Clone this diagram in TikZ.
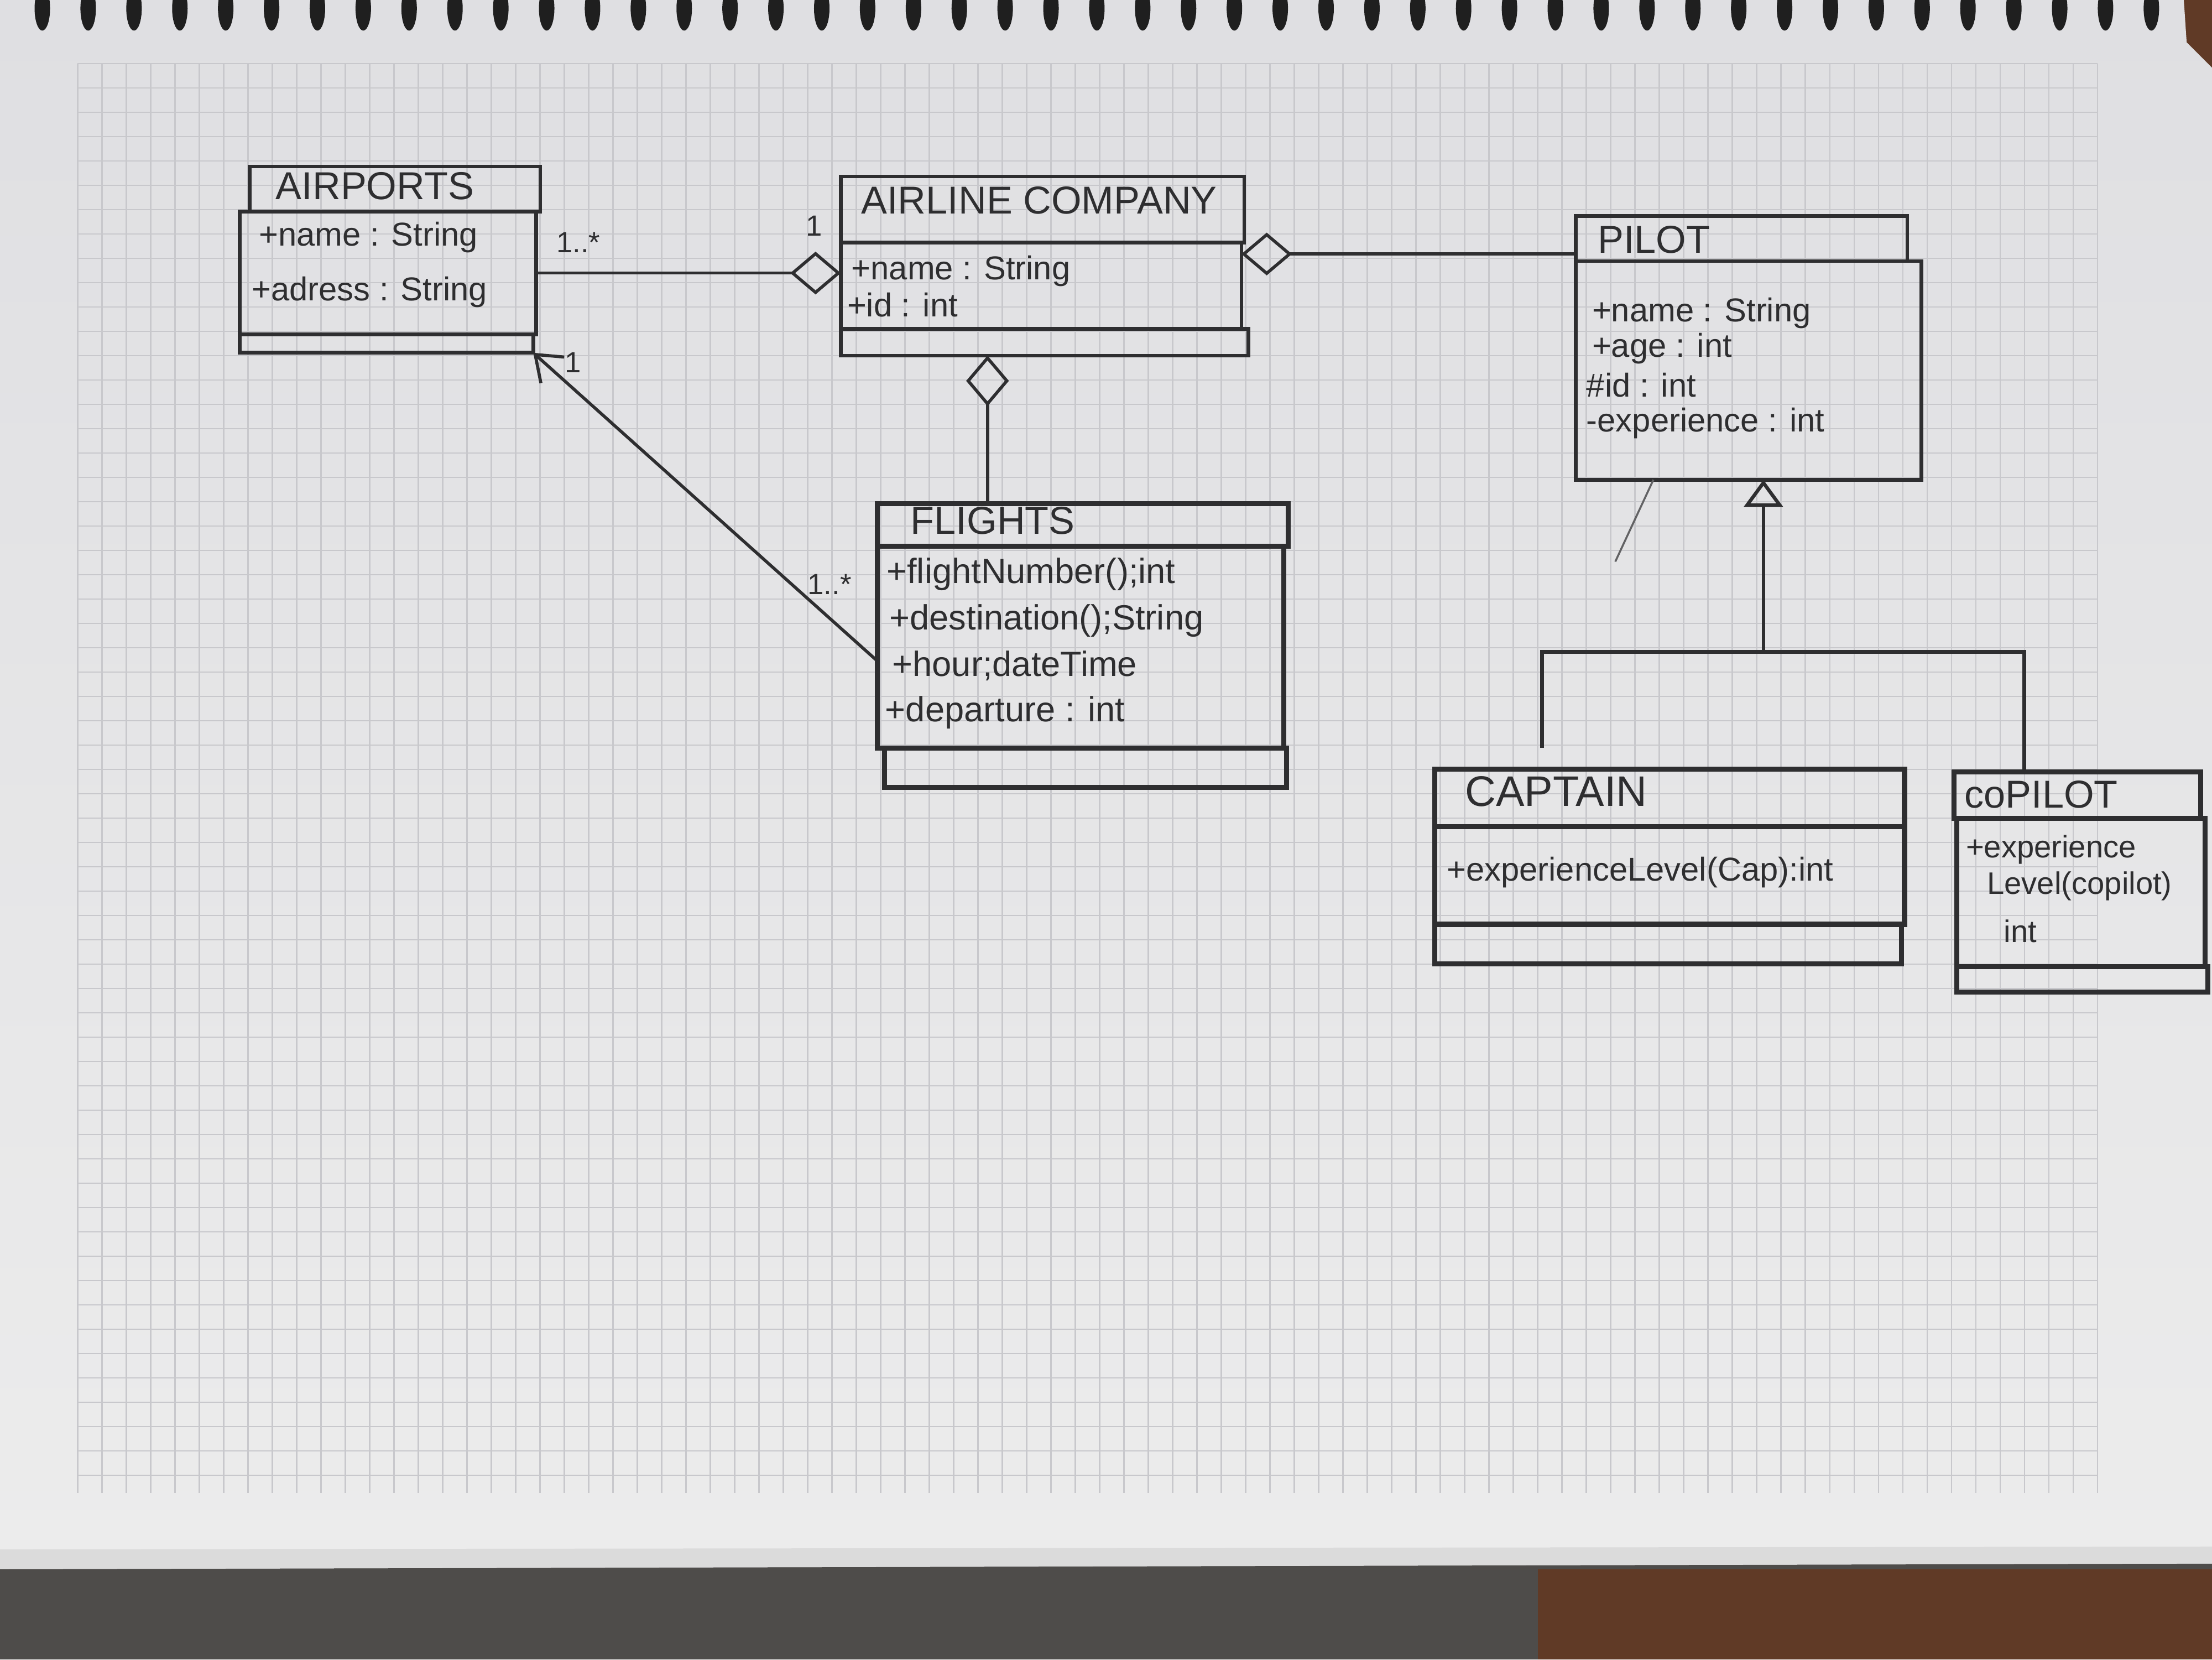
\documentclass[tikz,border=0pt]{standalone}
\usepackage{fontspec}
\setmainfont{Liberation Sans}
\usetikzlibrary{arrows.meta,fit,calc}

\definecolor{pen}{HTML}{2E2E30}
\definecolor{paperhi}{RGB}{223,223,226}
\definecolor{paperlo}{RGB}{236,236,236}
\definecolor{gridc}{RGB}{200,200,204}
\definecolor{desk}{RGB}{78,76,74}
\definecolor{wood}{RGB}{96,58,38}

\begin{document}
\begin{tikzpicture}[x=0.0127551cm, y=-0.0127551cm,
  pencil/.style={draw=pen, line width=0.95pt},
  heavy/.style={draw=pen, line width=1.3pt},
  cbox/.style={inner sep=0pt, outer sep=0pt},
  ttl/.style={anchor=west, text=pen, inner sep=0pt, font=\fontsize{10}{12}\selectfont},
  attr/.style={anchor=west, text=pen, inner sep=0pt, font=\fontsize{8.5}{10}\selectfont},
  mult/.style={text=pen, inner sep=0pt, font=\fontsize{7.5}{9}\selectfont},
  aggr/.style={draw=pen, line width=0.8pt, -{Diamond[open, length=13pt, width=11pt, line width=0.8pt]}},
  assoc/.style={draw=pen, line width=0.8pt, -{Straight Barb[length=6pt, width=9pt, line width=0.8pt]}},
  gen/.style={draw=pen, line width=0.9pt, -{Triangle[open, length=7pt, width=10pt, line width=0.9pt]}},
]
\useasboundingbox (0,0) rectangle (1568,1176);

% desk and notebook page
\fill[desk] (0,0) rectangle (1568,1176);
\fill[wood] (1090,1112) rectangle (1568,1176);
\fill[wood] (1548,0) rectangle (1568,60);
\shade[top color=paperhi, bottom color=paperlo]
  (4,0) -- (1548,0) -- (1550,30) -- (1568,48) -- (1568,1108) -- (0,1112) -- (0,0) -- cycle;
\fill[black!14] (0,1098) -- (1568,1096) -- (1568,1108) -- (0,1112) -- cycle;

% squared grid
\foreach \gx in {0,...,83} \draw[gridc, line width=0.35pt] (55+\gx*17.25,45) -- (55+\gx*17.25,1058);
\foreach \gy in {0,...,58} \draw[gridc, line width=0.35pt] (55,45+\gy*17.25) -- (1487,45+\gy*17.25);

% spiral binding holes
\foreach \hi in {0,...,46} \fill[black!88] (30+\hi*32.5,6) ellipse [x radius=0.07cm, y radius=0.2cm];

% ---- AIRPORTS
\node[fit={(177,118) (383,150)}, cbox, pencil] (ap-t) {};
\node[fit={(170,150) (380,237)}, cbox, pencil] (ap-a) {};
\node[fit={(170,237) (378,250)}, cbox, pencil] (ap-m) {};
\node[ttl] (ap-n) at (195,132) {AIRPORTS};
\node[attr] (ap-1) at (183,168) {+name : String};
\node[attr] (ap-2) at (178,207) {+adress : String};

% ---- AIRLINE COMPANY
\node[fit={(596,125) (882,172)}, cbox, pencil] (ac-t) {};
\node[fit={(596,172) (880,233)}, cbox, pencil] (ac-a) {};
\node[fit={(596,233) (885,252)}, cbox, pencil] (ac-m) {};
\node[ttl] (ac-n) at (610,142) {AIRLINE COMPANY};
\node[attr] (ac-1) at (603,192) {+name : String};
\node[attr] (ac-2) at (600,216) {+id : int};

% ---- PILOT
\node[fit={(1117,153) (1352,185)}, cbox, pencil] (pi-t) {};
\node[fit={(1117,185) (1362,340)}, cbox, pencil] (pi-a) {};
\node[ttl] (pi-n) at (1132,170) {PILOT};
\node[attr] (pi-1) at (1128,222) {+name : String};
\node[attr] (pi-2) at (1128,247) {+age : int};
\node[attr] (pi-3) at (1124,273) {\#id : int};
\node[attr] (pi-4) at (1124,300) {-experience : int};

% ---- FLIGHTS
\node[fit={(622,357) (913,387)}, cbox, heavy] (fl-t) {};
\node[fit={(622,387) (910,530)}, cbox, heavy] (fl-a) {};
\node[fit={(627,530) (912,558)}, cbox, heavy] (fl-m) {};
\node[ttl] (fl-n) at (645,369) {FLIGHTS};
\node[attr, font=\fontsize{9}{11}\selectfont] (fl-1) at (628,407) {+flightNumber();int};
\node[attr, font=\fontsize{9}{11}\selectfont] (fl-2) at (630,440) {+destination();String};
\node[attr, font=\fontsize{9}{11}\selectfont] (fl-3) at (632,472) {+hour;dateTime};
\node[attr, font=\fontsize{9}{11}\selectfont] (fl-4) at (627,505) {+departure : int};

% ---- CAPTAIN
\node[fit={(1017,545) (1350,586)}, cbox, heavy] (ca-t) {};
\node[fit={(1017,586) (1350,655)}, cbox, heavy] (ca-a) {};
\node[fit={(1017,655) (1348,683)}, cbox, heavy] (ca-m) {};
\node[ttl, font=\fontsize{11}{13}\selectfont] (ca-n) at (1038,561) {CAPTAIN};
\node[attr] (ca-1) at (1025,618) {+experienceLevel(Cap):int};

% ---- COPILOT
\node[fit={(1385,547) (1560,580)}, cbox, heavy] (co-t) {};
\node[fit={(1387,580) (1563,685)}, cbox, heavy] (co-a) {};
\node[fit={(1387,685) (1565,703)}, cbox, heavy] (co-m) {};
\node[ttl] (co-n) at (1392,563) {coPILOT};
\node[attr, font=\fontsize{8}{10}\selectfont] (co-1) at (1393,602) {+experience};
\node[attr, font=\fontsize{8}{10}\selectfont] (co-2) at (1408,628) {Level(copilot)};
\node[attr, font=\fontsize{8}{10}\selectfont] (co-3) at (1420,660) {int};

% ---- connectors
% AIRPORTS -- AIRLINE COMPANY (aggregation)
\draw[aggr] (ap-a.east) -- (ap-a.east -| ac-a.west);
\node[mult] (m-ap) at (410,172) {1..*};
\node[mult] (m-ac) at (577,160) {1};

% PILOT -- AIRLINE COMPANY (aggregation)
\coordinate (pj) at ($(pi-t.south west)+(0,-5)$);
\draw[aggr] (pj) -- (pj -| ac-a.east);

% FLIGHTS -- AIRLINE COMPANY (aggregation)
\coordinate (fj) at ($(fl-t.north west)+(78,0)$);
\draw[aggr] (fj) -- (fj |- ac-m.south);

% FLIGHTS -> AIRPORTS (association)
\coordinate (fa) at ($(fl-a.west)+(0,10)$);
\draw[assoc] (fa) -- (ap-m.south east);
\node[mult] (m-ap2) at (406,257) {1};
\node[mult] (m-fl) at (588,414) {1..*};

% CAPTAIN, COPILOT -> PILOT (generalization)
\coordinate (gj) at (1250,462);
\draw[gen] (gj) -- (gj |- pi-a.south);
\coordinate (cf) at ($(ca-t.north west)+(76,-15)$);
\coordinate (cof) at ($(co-t.north west)+(50,0)$);
\draw[pencil] (cf) |- (gj) -| (cof);

% loose pencil stroke under PILOT
\draw[pen!75, line width=0.5pt] ($(pi-a.south west)+(55,0)$) -- ++(-27,58);

\end{tikzpicture}
\end{document}
